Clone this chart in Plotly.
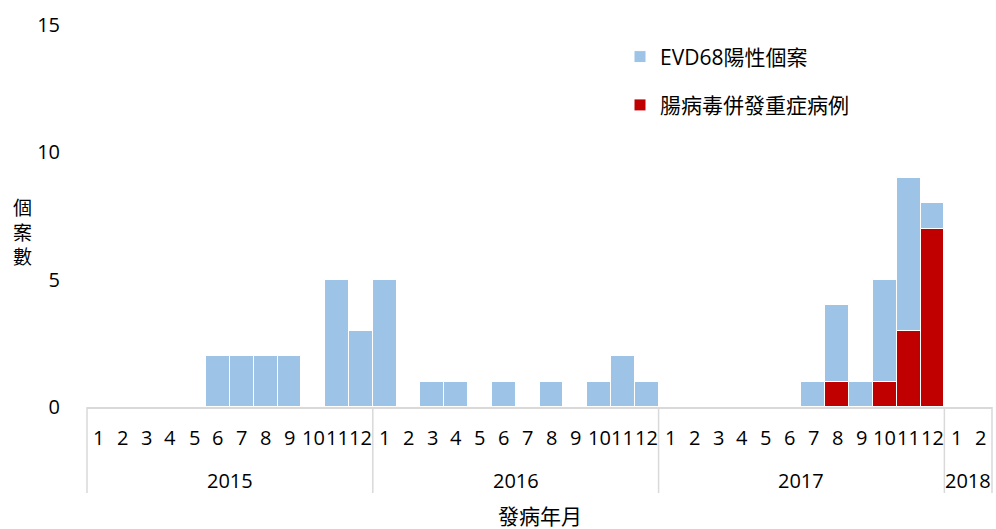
import plotly.graph_objects as go

years = ["2015", "2016", "2017", "2018"]
months_per_year = [12, 12, 12, 2]
evd68_positive = [0, 0, 0, 0, 0, 2, 2, 2, 2, 0, 5, 3,
                  5, 0, 1, 1, 0, 1, 0, 1, 0, 1, 2, 1,
                  0, 0, 0, 0, 0, 0, 1, 4, 1, 5, 9, 8,
                  0, 0]
severe_cases = [0, 0, 0, 0, 0, 0, 0, 0, 0, 0, 0, 0,
                0, 0, 0, 0, 0, 0, 0, 0, 0, 0, 0, 0,
                0, 0, 0, 0, 0, 0, 0, 1, 0, 1, 3, 7,
                0, 0]
series_names = ["EVD68陽性個案", "腸病毒併發重症病例"]
y_ticks = [0, 5, 10, 15]

month_labels = []
for yr, n in zip(years, months_per_year):
    for m in range(1, n + 1):
        month_labels.append(str(m))
xs = list(range(len(month_labels)))
N = len(xs)

PLOT_H = 382
PLOT_W = 905
FONT = "Open Sans, Noto Sans CJK TC, sans-serif"
fig = go.Figure()
fig.add_trace(go.Bar(x=xs, y=evd68_positive, name=series_names[0], legendgroup="a",
                     marker=dict(color="#9DC3E6", line=dict(color="white", width=1))))
fig.add_trace(go.Bar(x=xs, y=severe_cases, name=series_names[1], legendgroup="b",
                     marker=dict(color="#C00000", line=dict(color="white", width=1))))

annotations = []
for x, lab in zip(xs, month_labels):
    annotations.append(dict(x=x, y=0, xref="x", yref="paper", text=lab, showarrow=False,
                            yanchor="middle", yshift=-30, font=dict(size=20, color="#000")))
shapes = []
start = 0
bounds = [0]
for yr, n in zip(years, months_per_year):
    center = start + (n - 1) / 2
    annotations.append(dict(x=center, y=0, xref="x", yref="paper", text=yr, showarrow=False,
                            yanchor="middle", yshift=-73, font=dict(size=20, color="#000")))
    start += n
    bounds.append(start)
for b in bounds:
    xp = b / N
    shapes.append(dict(type="line", xref="paper", yref="paper", x0=xp, x1=xp,
                       y0=0, y1=-86 / PLOT_H, line=dict(color="#D9D9D9", width=1.5)))
annotations.append(dict(x=0.5, y=0, xref="paper", yref="paper", text="發病年月", showarrow=False,
                        yanchor="middle", yshift=-109, font=dict(size=21, color="#000")))
annotations.append(dict(x=(22 - 87) / PLOT_W, y=0.457, xref="paper", yref="paper",
                        text="個<br>案<br>數", showarrow=False, xanchor="center", yanchor="middle",
                        font=dict(size=19, color="#000")))

fig.update_layout(
    width=996, height=529,
    margin=dict(l=87, r=4, t=25, b=122),
    paper_bgcolor="white", plot_bgcolor="white",
    barmode="overlay", bargap=0,
    font=dict(family=FONT, size=20, color="#000"),
    showlegend=True,
    legend=dict(x=(620 - 87) / PLOT_W, y=0.97, xanchor="left", yanchor="top",
                traceorder="grouped", tracegroupgap=18, font=dict(size=21),
                bgcolor="rgba(0,0,0,0)", itemwidth=30),
    xaxis=dict(range=[-0.5, N - 0.5], showticklabels=False, ticks="", showgrid=False,
               zeroline=False, showline=True, linecolor="#D9D9D9", linewidth=1.5),
    yaxis=dict(range=[0, 15], tickvals=y_ticks, showgrid=False, zeroline=False, showline=False,
               ticks="outside", ticklen=22, tickcolor="rgba(0,0,0,0)", tickfont=dict(size=20)),
    annotations=annotations, shapes=shapes,
)
fig.write_html(
    "out.html",
    config={"displayModeBar": False},
    post_script="document.body.style.margin='0';document.body.style.padding='0';"
                "document.documentElement.style.overflow='hidden';document.body.style.overflow='hidden';",
)
